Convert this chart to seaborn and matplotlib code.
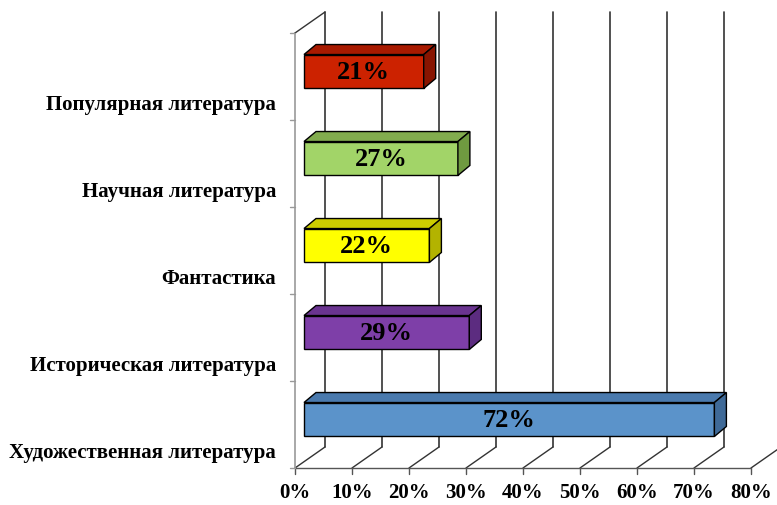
import numpy as np
import pandas as pd
import matplotlib
matplotlib.use("Agg")
import matplotlib.pyplot as plt
from matplotlib.patches import Polygon
import seaborn as sns

# data, top to bottom as drawn
categories = ["Популярная литература", "Научная литература", "Фантастика",
              "Историческая литература", "Художественная литература"]
values = [21, 27, 22, 29, 72]
front_colors = ["#CC2200", "#A2D468", "#FFFF00", "#7E3FA8", "#5B93CA"]
top_colors = ["#A81A00", "#82AC4E", "#CDCD00", "#6A3490", "#4A7AAE"]
side_colors = ["#881400", "#6F9A40", "#B3B300", "#5C2C80", "#3F6A98"]
xticks = [0, 10, 20, 30, 40, 50, 60, 70, 80]
xtick_labels = [f"{t}%" for t in xticks]

sns.set_style("white")
plt.rcParams["font.family"] = ["Liberation Serif", "DejaVu Serif"]
plt.rcParams["text.color"] = "black"

fig = plt.figure(figsize=(7.77, 5.05), dpi=100)
ax = fig.add_axes([0, 0, 1, 1])

df = pd.DataFrame({"cat": categories, "val": values})
sns.barplot(data=df, x="val", y="cat", hue="cat", order=categories,
            palette=front_colors, legend=False, orient="h", width=0.39,
            edgecolor="black", linewidth=1.0, saturation=1, ax=ax, zorder=3)

# pixel based scale: 1% = 5.7px, one category slot = 87px
px_per_pct = 5.7
px_per_cat = 87.0
x0_px, y0_px = 295, 71.5
ax.set_xlim((0 - x0_px) / px_per_pct, (777 - x0_px) / px_per_pct)
ax.set_ylim((505 - y0_px) / px_per_cat, (0 - y0_px) / px_per_cat)
ax.axis("off")

# 3d wall / floor
dxw = 30 / px_per_pct
dyw = -21 / px_per_cat
y_top = (33 - y0_px) / px_per_cat
y_bot = y_top + len(categories)
grid_c = "#333333"

for t, lab in zip(xticks, xtick_labels):
    ax.plot([t + dxw, t + dxw], [y_top + dyw, y_bot + dyw], color=grid_c, lw=1.2, zorder=1)
    ax.plot([t, t + dxw], [y_bot, y_bot + dyw], color=grid_c, lw=1.0, zorder=1)
    ax.plot([t, t], [y_bot, y_bot + 6 / px_per_cat], color="#555555", lw=1.0, zorder=1)
    ax.text(t, (493 - y0_px) / px_per_cat, lab, ha="center", va="center",
            fontsize=15, fontweight="bold", color="black")
ax.plot([0, xticks[-1]], [y_bot, y_bot], color="#555555", lw=1.0, zorder=1)
ax.plot([0, 0], [y_top, y_bot], color="#999999", lw=1.2, zorder=1)
ax.plot([0, dxw], [y_top, y_top + dyw], color=grid_c, lw=1.0, zorder=1)
for k in range(len(categories) + 1):
    ax.plot([-5 / px_per_pct, 0], [y_top + k, y_top + k], color="#999999", lw=1.0, zorder=1)

# bar depth faces
bar_off = 9 / px_per_pct
bdx = 12 / px_per_pct
bdy = -10 / px_per_cat
for i, p in enumerate(ax.patches):
    p.set_x(p.get_x() + bar_off)
    xa, xb = p.get_x(), p.get_x() + p.get_width()
    yt, yb = p.get_y(), p.get_y() + p.get_height()
    ax.add_patch(Polygon([(xa, yt), (xb, yt), (xb + bdx, yt + bdy), (xa + bdx, yt + bdy)],
                         closed=True, facecolor=top_colors[i], edgecolor="black", lw=1.0, zorder=3))
    ax.add_patch(Polygon([(xb, yt), (xb, yb), (xb + bdx, yb + bdy), (xb + bdx, yt + bdy)],
                         closed=True, facecolor=side_colors[i], edgecolor="black", lw=1.0, zorder=3))
    ax.text((xa + xb) / 2, (yt + yb) / 2 + 0.01, f"{values[i]}%", ha="center", va="center",
            fontsize=19, fontweight="bold", color="black", zorder=4)

for i, c in enumerate(categories):
    ax.text((276 - x0_px) / px_per_pct, i + (105 - y0_px) / px_per_cat, c,
            ha="right", va="center", fontsize=15, fontweight="bold", color="black")

fig.savefig("out.png", dpi=100)
